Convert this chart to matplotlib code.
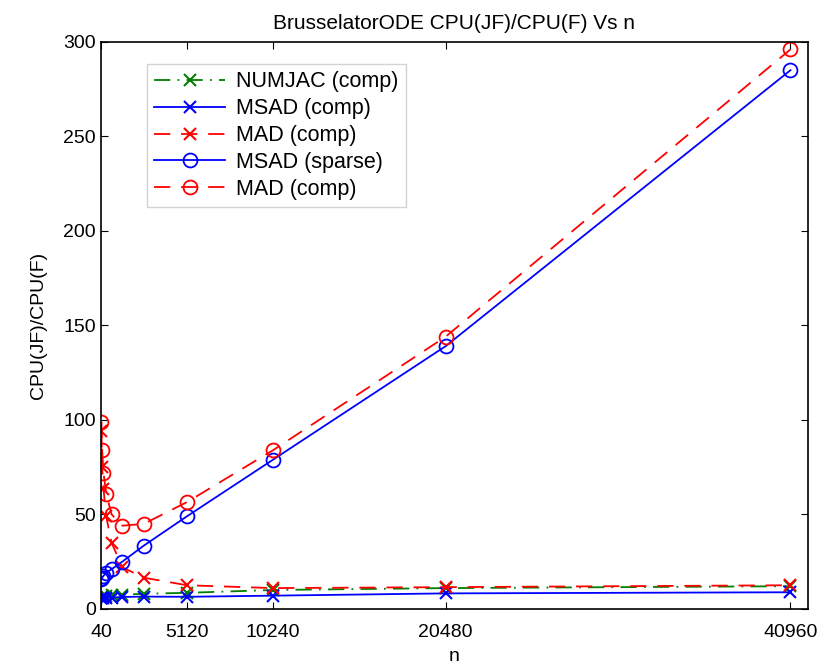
import matplotlib.pyplot as plt

plt.rcParams['font.family'] = ['Liberation Sans', 'DejaVu Sans']

# problem sizes
n = [40, 80, 160, 320, 640, 1280, 2560, 5120, 10240, 20480, 40960]

# CPU(JF)/CPU(F) ratios
numjac_comp = [6, 6.5, 7, 7, 7.5, 7.5, 8, 8.5, 10, 11, 12]
msad_comp = [5.5, 6, 6, 6, 6, 6.3, 6.5, 6.4, 7, 8.2, 8.8]
mad_comp = [94, 75, 63.5, 49, 35, 22, 16.5, 12.5, 11, 11.5, 12.5]
msad_sparse = [16, 16.5, 17.5, 19, 21, 25, 33.5, 49, 79, 139, 285]
mad_sparse = [99, 84, 72, 61, 50, 44, 45, 56.5, 84, 144, 296]

xticks = [40, 5120, 10240, 20480, 40960]

fig = plt.figure(figsize=(8.33, 6.64), dpi=100)
ax = fig.add_axes([0.121, 0.083, 0.849, 0.854])

ms = 9
dash = (0, (9, 6))
ax.plot(n, numjac_comp, color='#008000', linestyle=(0, (9, 4, 1, 4)), marker='x',
        markersize=ms, markeredgewidth=1.5, linewidth=1.3, label='NUMJAC (comp)')
ax.plot(n, msad_comp, color='#0000ff', linestyle='-', marker='x',
        markersize=ms, markeredgewidth=1.5, linewidth=1.3, label='MSAD (comp)')
ax.plot(n, mad_comp, color='#ff0000', linestyle=dash, marker='x',
        markersize=ms, markeredgewidth=1.5, linewidth=1.3, label='MAD (comp)')
ax.plot(n, msad_sparse, color='#0000ff', linestyle='-', marker='o',
        markersize=ms + 1, markerfacecolor='none', markeredgewidth=1.3,
        linewidth=1.3, label='MSAD (sparse)')
ax.plot(n, mad_sparse, color='#ff0000', linestyle=dash, marker='o',
        markersize=ms + 1, markerfacecolor='none', markeredgewidth=1.3,
        linewidth=1.3, label='MAD (comp)')

ax.set_xlim(0, 42000)
ax.set_ylim(0, 300)
ax.set_xticks(xticks)
ax.set_xticklabels([str(t) for t in xticks])
ax.set_yticks(range(0, 301, 50))
ax.tick_params(direction='in', labelsize=14, length=5, top=True, right=True,
               labeltop=False, labelright=False)
ax.tick_params(axis='x', pad=11)
for s in ax.spines.values():
    s.set_linewidth(1.2)

ax.set_xlabel('n', fontsize=14, labelpad=5)
ax.set_ylabel('CPU(JF)/CPU(F)', fontsize=14, labelpad=12)
ax.set_title('BrusselatorODE CPU(JF)/CPU(F) Vs n', fontsize=15, pad=9)

leg = ax.legend(loc='upper left', bbox_to_anchor=(0.05, 0.98), fontsize=15.5,
                frameon=True, fancybox=False, edgecolor='#c8c8c8',
                handlelength=3.3, handletextpad=0.5, borderpad=0.35,
                labelspacing=0.27)
leg.get_frame().set_linewidth(1.0)

fig.savefig('out.png', dpi=100)
